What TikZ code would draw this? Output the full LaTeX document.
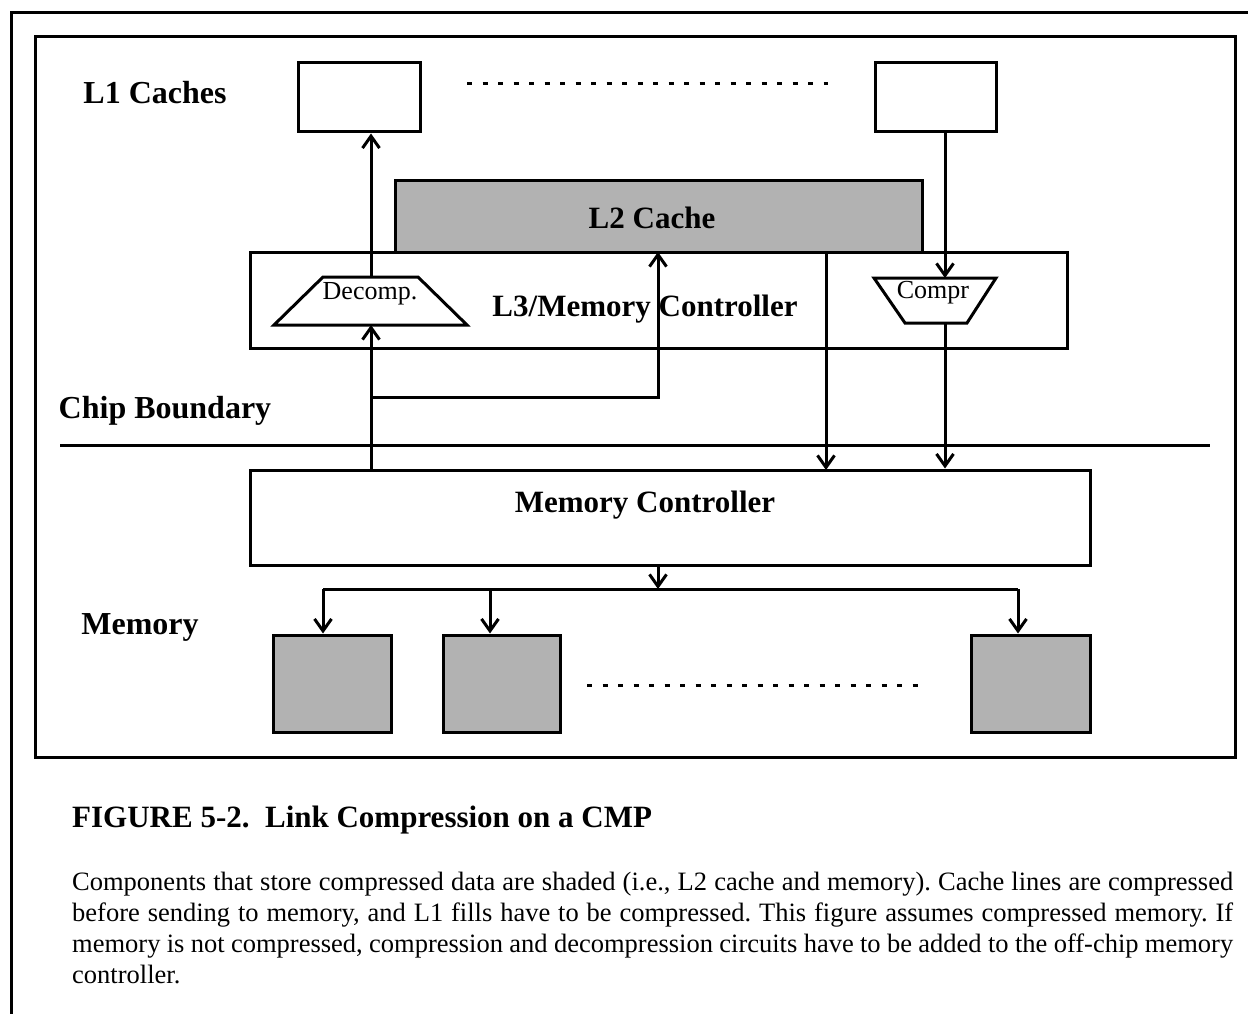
\documentclass[tikz,border=0pt]{standalone}
\usepackage{fontspec}
\setmainfont{Liberation Serif}
\usetikzlibrary{arrows.meta}
\definecolor{cachegray}{gray}{0.70}
\frenchspacing
\begin{document}
\begin{tikzpicture}[x=1pt,y=-1pt,
  frame/.style={line width=3pt},
  blk/.style={draw, line width=3pt, inner sep=0pt, fill=white},
  shadedblk/.style={blk, fill=cachegray},
  link/.style={line width=3pt, -{Straight Barb[length=12pt,width=17pt]}},
  wire/.style={line width=3pt},
  lbl/.style={font=\fontsize{32}{36}\selectfont\bfseries, inner sep=0pt},
  small/.style={font=\fontsize{26}{30}\selectfont, inner sep=0pt},
  body/.style={font=\fontsize{26.5}{31}\selectfont, inner sep=0pt, anchor=base west},
  dots/.style={line width=3pt, dash pattern=on 5pt off 10.5pt}
]
\useasboundingbox (0,0) rectangle (1248,1014);

% page frame and figure frame
\draw[frame] (1248,13) -- (11,13) -- (11,1014);
\draw[frame] (35,37) rectangle (1235,757);

% L1 caches
\node[lbl] (l1lbl) at (155,93) {L1 Caches};
\node[blk, minimum width=122pt, minimum height=69pt] (l1a) at (359,97.5) {};
\node[blk, minimum width=121pt, minimum height=69pt] (l1b) at (935.5,97.5) {};
\draw[dots] (467,84) -- (828,84);

% L2 cache and L3/memory controller
\node[shadedblk, minimum width=527pt, minimum height=71pt] (l2) at (658.5,216.5) {};
\node[lbl, font=\fontsize{31}{36}\selectfont\bfseries] (l2text) at (652,218) {L2 Cache};
\node[blk, minimum width=817pt, minimum height=96pt] (l3) at (658.5,300) {};
\node[lbl, font=\fontsize{31}{36}\selectfont\bfseries] (l3text) at (645,309) {L3/Memory Controller};

% decompressor and compressor
\draw[line width=3pt, fill=white] (323,277) -- (418,277) -- (467,325) -- (274,325) -- cycle;
\node[small] (dectext) at (370,294) {Decomp.};
\coordinate (dectop) at (371,277);
\coordinate (decbot) at (371,325);
\draw[line width=3pt, fill=white] (874,278) -- (996,278) -- (967,323) -- (905,323) -- cycle;
\node[small] (comtext) at (933,293) {Compr};
\coordinate (comtop) at (945,278);
\coordinate (combot) at (945,323);

% chip boundary
\node[lbl] (chiplbl) at (165,411) {Chip Boundary};
\coordinate (chipL) at (60,445);
\coordinate (chipR) at (1210,445);
\draw[frame] (chipL) -- (chipR);

% off-chip memory controller
\node[blk, minimum width=840pt, minimum height=95pt] (mc) at (670,517.5) {};
\node[lbl, font=\fontsize{31}{36}\selectfont\bfseries] (mctext) at (645,505) {Memory Controller};

% memory modules
\node[lbl] (memlbl) at (140,627) {Memory};
\node[shadedblk, minimum width=118pt, minimum height=97pt] (mem1) at (332,683.5) {};
\node[shadedblk, minimum width=117pt, minimum height=97pt] (mem2) at (501.5,683.5) {};
\node[shadedblk, minimum width=119pt, minimum height=97pt] (mem3) at (1030.5,683.5) {};
\draw[dots] (587,685) -- (922,685);

% data paths
\draw[link] (dectop) -- (dectop |- l1a.south);
\draw[link] (l1b.south -| comtop) -- (comtop);
\draw[link] (decbot |- mc.north) -- (decbot);
\coordinate (split) at (371,397);
\draw[link] (split) -| (658,252);
\draw[link] (826,252) -- (826,470);
\draw[link] (combot) -- (combot |- mc.north);

% memory bus
\coordinate (busC) at (658,589);
\coordinate (busL) at (323,589);
\coordinate (busM) at (490,589);
\coordinate (busR) at (1018,589);
\draw[link] (busC |- mc.south) -- (busC);
\draw[wire] (busL) -- (busR);
\draw[link] (busL) -- (busL |- mem1.north);
\draw[link] (busM) -- (busM |- mem2.north);
\draw[link] (busR) -- (busR |- mem3.north);

% caption
\node[body, font=\fontsize{31}{36}\selectfont\bfseries] (cap) at (72,827) {FIGURE 5-2.\ \ Link Compression on a CMP};
\node[body] (p1) at (72,890) {\makebox[1161pt][s]{Components that store compressed data are shaded (i.e., L2 cache and memory). Cache lines are compressed}};
\node[body] (p2) at (72,921) {\makebox[1161pt][s]{before sending to memory, and L1 fills have to be compressed. This figure assumes compressed memory. If}};
\node[body] (p3) at (72,952) {\makebox[1161pt][s]{memory is not compressed, compression and decompression circuits have to be added to the off-chip memory}};
\node[body] (p4) at (72,983) {controller.};
\end{tikzpicture}
\end{document}
